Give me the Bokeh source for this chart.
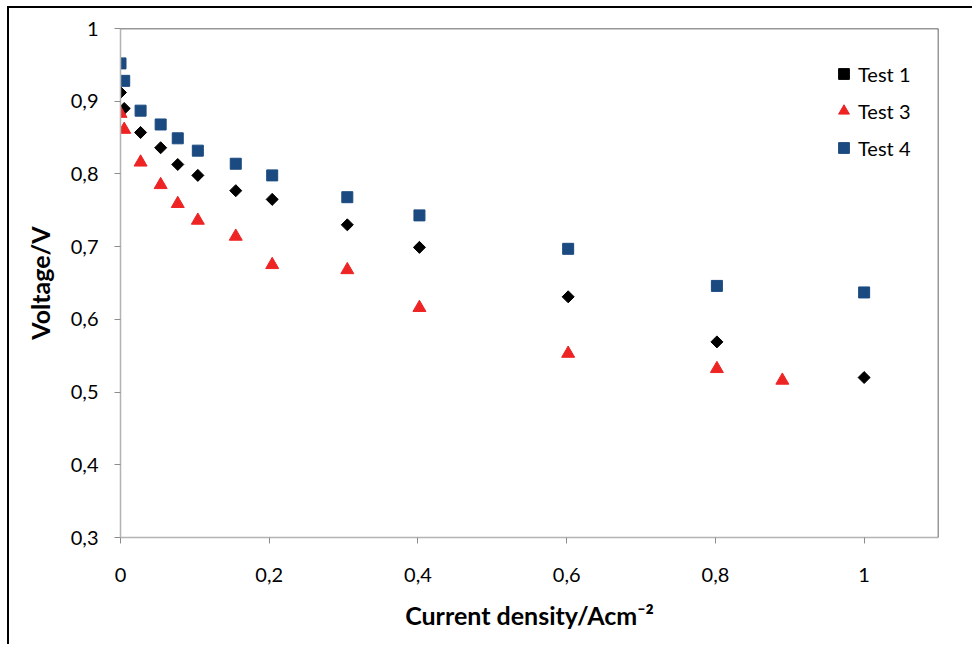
import math
from bokeh.plotting import figure
from bokeh.models import (Range1d, FixedTicker, CustomJSTickFormatter, Span,
                          Legend, LegendItem)
from bokeh.embed import file_html
from bokeh.resources import INLINE

# ---- data ----
x_t1 = [0.0, 0.005, 0.027, 0.054, 0.077, 0.104, 0.155, 0.204, 0.305, 0.402, 0.602, 0.802, 1.0]
y_t1 = [0.912, 0.890, 0.857, 0.836, 0.813, 0.798, 0.777, 0.765, 0.730, 0.699, 0.631, 0.569, 0.520]

x_t3 = [0.0, 0.005, 0.027, 0.054, 0.077, 0.104, 0.155, 0.204, 0.305, 0.402, 0.602, 0.802, 0.890]
y_t3 = [0.883, 0.861, 0.816, 0.785, 0.759, 0.736, 0.714, 0.675, 0.668, 0.616, 0.553, 0.532, 0.516]

x_t4 = [0.0, 0.005, 0.027, 0.054, 0.077, 0.104, 0.155, 0.204, 0.305, 0.402, 0.602, 0.802, 1.0]
y_t4 = [0.952, 0.928, 0.887, 0.868, 0.849, 0.832, 0.814, 0.798, 0.768, 0.743, 0.697, 0.646, 0.637]

series_names = ["Test 1", "Test 3", "Test 4"]
x_ticks = [0, 0.2, 0.4, 0.6, 0.8, 1.0]
y_ticks = [0.3, 0.4, 0.5, 0.6, 0.7, 0.8, 0.9, 1.0]

FONT = "Lato"

p = figure(width=965, height=638, output_backend="svg", toolbar_location=None,
           x_range=Range1d(0, 1.1), y_range=Range1d(0.3, 1.0),
           min_border_left=111, min_border_right=36, min_border_top=20, min_border_bottom=109)
# outer image frame: top and left edges only
p.margin = (6, 0, 0, 7)
p.styles = {"border-top": "2px solid black", "border-left": "2px solid black"}

p.outline_line_color = None
p.grid.grid_line_color = None
p.background_fill_color = "white"
p.border_fill_color = "white"

fmt = CustomJSTickFormatter(code="return (Math.round(tick*10)/10).toString().replace('.', ',');")

for ax in (p.xaxis[0], p.yaxis[0]):
    ax.axis_line_color = "#b3b3b3"
    ax.axis_line_width = 1.5
    ax.major_tick_line_color = "#8c8c8c"
    ax.major_tick_in = 0
    ax.major_tick_out = 6
    ax.minor_tick_line_color = None
    ax.major_label_text_font = FONT
    ax.major_label_text_font_size = "20px"
    ax.major_label_text_color = "#000000"
    ax.axis_label_text_font = FONT
    ax.axis_label_text_font_style = "bold"
    ax.axis_label_text_font_size = "25px"
    ax.axis_label_text_color = "#000000"
    ax.formatter = fmt

p.xaxis.ticker = FixedTicker(ticks=x_ticks)
p.yaxis.ticker = FixedTicker(ticks=y_ticks)
p.xaxis.major_label_standoff = 24
p.yaxis.major_label_standoff = 16
p.xaxis.axis_label = "Current density/Acm\u207b\u00b2"
p.yaxis.axis_label = "Voltage/V"
p.xaxis.axis_label_standoff = 15
p.yaxis.axis_label_standoff = 13

# plot-area top and right borders
p.add_layout(Span(location=1.0, dimension="width", line_color="#333333", line_width=1.5))
p.add_layout(Span(location=1.1, dimension="height", line_color="#333333", line_width=1.5))

r1 = p.scatter(x_t1, y_t1, marker="square", size=8.5, angle=math.pi / 4,
               fill_color="black", line_color="black")
r3 = p.scatter(x_t3, y_t3, marker="triangle", size=13, fill_color="#ee2424", line_color="#ee2424")
r4 = p.scatter(x_t4, y_t4, marker="square", size=11, fill_color="#1b4a80", line_color="#1b4a80")

legend = Legend(items=[LegendItem(label=series_names[0], renderers=[r1]),
                       LegendItem(label=series_names[1], renderers=[r3]),
                       LegendItem(label=series_names[2], renderers=[r4])],
                location=(710, 376))
legend.border_line_color = None
legend.background_fill_alpha = 0
legend.label_text_font = FONT
legend.label_text_font_size = "20px"
legend.label_text_color = "black"
legend.spacing = 10
legend.glyph_width = 27
legend.glyph_height = 27
legend.label_standoff = 1
p.add_layout(legend, "center")

open("out.html", "w").write(file_html(p, INLINE))
